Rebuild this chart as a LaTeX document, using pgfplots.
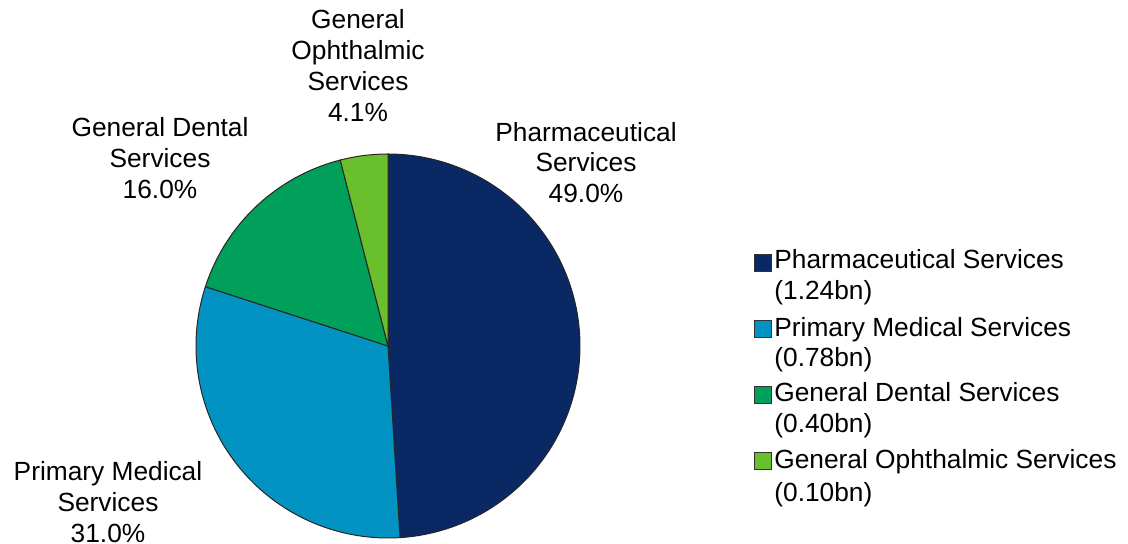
\documentclass[border=0pt]{standalone}
\usepackage{fontspec}
\setmainfont{Liberation Sans}
\usepackage{pgfplots}
\pgfplotsset{compat=1.18}
\definecolor{pharma}{HTML}{0A2864}
\definecolor{primary}{HTML}{0393C3}
\definecolor{dental}{HTML}{00A05A}
\definecolor{ophth}{HTML}{6ABF2C}
\newcommand{\lbl}{\fontsize{13.2}{15.5}\selectfont}

\begin{document}
\begin{tikzpicture}
\begin{axis}[
    width=564bp, height=272bp, scale only axis,
    xmin=0, xmax=1128, ymin=0, ymax=544,
    hide axis, clip=false,
]
    % wedges: shares 49.0, 31.0, 16.0, 4.0 percent, clockwise from 12 o'clock
    \addplot[fill=pharma, draw=black!85, line width=0.5pt, domain=90:-86.4, samples=120, variable=\t]
        ({388+192*cos(t)},{198+192*sin(t)}) -- (axis cs:388,198) -- cycle;
    \addplot[fill=primary, draw=black!85, line width=0.5pt, domain=-86.4:-198, samples=80, variable=\t]
        ({388+192*cos(t)},{198+192*sin(t)}) -- (axis cs:388,198) -- cycle;
    \addplot[fill=dental, draw=black!85, line width=0.5pt, domain=-198:-255.6, samples=40, variable=\t]
        ({388+192*cos(t)},{198+192*sin(t)}) -- (axis cs:388,198) -- cycle;
    \addplot[fill=ophth, draw=black!85, line width=0.5pt, domain=-255.6:-270, samples=15, variable=\t]
        ({388+192*cos(t)},{198+192*sin(t)}) -- (axis cs:388,198) -- cycle;

    % slice labels
    \node[align=center, font=\lbl] at (axis cs:358,478.5) {General\\Ophthalmic\\Services\\4.1\%};
    \node[align=center, font=\lbl] at (axis cs:160,386) {General Dental\\Services\\16.0\%};
    \node[align=center, font=\lbl] at (axis cs:586,381.5) {Pharmaceutical\\Services\\49.0\%};
    \node[align=center, font=\lbl] at (axis cs:108,42) {Primary Medical\\Services\\31.0\%};

    % legend
    \node[draw=black!80, fill=pharma, minimum size=8.5bp, inner sep=0] at (axis cs:762.5,281.5) {};
    \node[draw=black!80, fill=primary, minimum size=8.5bp, inner sep=0] at (axis cs:762.5,215.5) {};
    \node[draw=black!80, fill=dental, minimum size=8.5bp, inner sep=0] at (axis cs:762.5,149.5) {};
    \node[draw=black!80, fill=ophth, minimum size=8.5bp, inner sep=0] at (axis cs:762.5,83.5) {};
    \node[anchor=base west, inner sep=0, font=\lbl] at (axis cs:774,275) {Pharmaceutical Services};
    \node[anchor=base west, inner sep=0, font=\lbl] at (axis cs:774,244) {(1.24bn)};
    \node[anchor=base west, inner sep=0, font=\lbl] at (axis cs:774,207.5) {Primary Medical Services};
    \node[anchor=base west, inner sep=0, font=\lbl] at (axis cs:774,177) {(0.78bn)};
    \node[anchor=base west, inner sep=0, font=\lbl] at (axis cs:774,142.5) {General Dental Services};
    \node[anchor=base west, inner sep=0, font=\lbl] at (axis cs:774,111) {(0.40bn)};
    \node[anchor=base west, inner sep=0, font=\lbl] at (axis cs:774,75) {General Ophthalmic Services};
    \node[anchor=base west, inner sep=0, font=\lbl] at (axis cs:774,42.5) {(0.10bn)};
\end{axis}
\pgfresetboundingbox
\path[use as bounding box] (current axis.south west) rectangle (current axis.north east);
\end{tikzpicture}
\end{document}
